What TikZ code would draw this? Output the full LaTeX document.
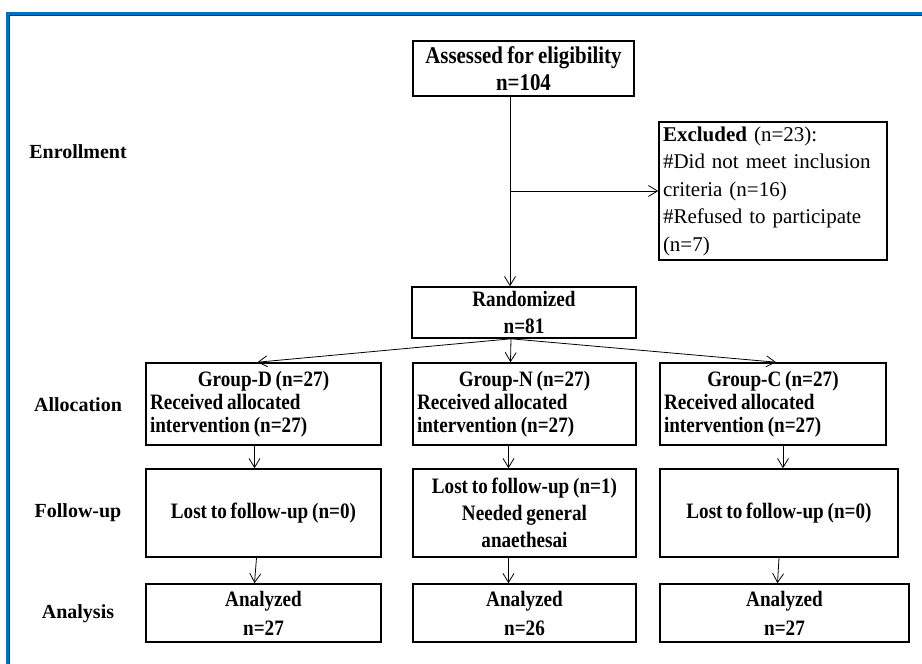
\documentclass[tikz,border=0pt]{standalone}
\usepackage{fontspec}
\setmainfont{Liberation Serif}
\newfontfamily\narrowserif[FakeStretch=0.87,WordSpace=0.8]{Liberation Serif}
\usetikzlibrary{arrows.meta}
\definecolor{frameblue}{RGB}{0,112,192}
\begin{document}
\begin{tikzpicture}[x=1pt,y=-1pt,
    box/.style={draw, line width=1.6pt, inner sep=0pt, align=center, font=\narrowserif\bfseries\fontsize{22}{27}\selectfont},
    grp/.style={box, align=left, font=\narrowserif\bfseries\fontsize{22}{23}\selectfont},
    stage/.style={font=\bfseries\fontsize{20}{24}\selectfont},
    arr/.style={-{Straight Barb[length=9pt,width=11pt]}, line width=0.8pt}]
    \useasboundingbox (0,0) rectangle (922,664);
    \draw[frameblue, line width=3pt] (7,664) -- (7,13) -- (922,13);
    \draw[black!80, line width=1pt] (9.5,664) -- (9.5,15.5) -- (922,15.5);
    \node[stage] (enrol) at (78,152) {Enrollment};
    \node[stage] (alloc) at (78,405) {Allocation};
    \node[stage] (follow) at (78,513) {Follow-up};
    \node[stage] (analysis) at (78,614) {Analysis};
    \node[box, minimum width=221pt, minimum height=55pt, font=\narrowserif\bfseries\fontsize{24}{27}\selectfont] (assess) at (523.5,68.5) {Assessed for eligibility\\n=104};
    \node[box, minimum width=228pt, minimum height=138pt, text width=220pt, align=left, font=\fontsize{21}{27.5}\selectfont] (excl) at (773,191) {\textbf{Excluded} (n=23):\\\#Did not meet inclusion\\criteria (n=16)\\\#Refused to participate\\(n=7)};
    \node[box, minimum width=224pt, minimum height=51pt] (rand) at (524,312.5) {Randomized\\n=81};
    \node[grp, minimum width=235pt, minimum height=82pt] (grpd) at (263.5,404) {\makebox[227pt][c]{Group-D (n=27)}\\Received allocated\\intervention (n=27)};
    \node[grp, minimum width=223pt, minimum height=82pt] (grpn) at (524.5,404) {\makebox[215pt][c]{Group-N (n=27)}\\Received allocated\\intervention (n=27)};
    \node[grp, minimum width=226pt, minimum height=82pt] (grpc) at (773,404) {\makebox[218pt][c]{Group-C (n=27)}\\Received allocated\\intervention (n=27)};
    \node[box, minimum width=235pt, minimum height=88pt] (folld) at (263.5,513) {Lost to follow-up (n=0)};
    \node[box, minimum width=223pt, minimum height=88pt] (folln) at (524.5,513) {Lost to follow-up (n=1)\\Needed general\\anaethesai};
    \node[box, minimum width=238pt, minimum height=88pt] (follc) at (779,513) {Lost to follow-up (n=0)};
    \node[box, minimum width=235pt, minimum height=58pt] (anad) at (263.5,613) {Analyzed\\[2pt]n=27};
    \node[box, minimum width=223pt, minimum height=58pt] (anan) at (524.5,613) {Analyzed\\[2pt]n=26};
    \node[box, minimum width=249pt, minimum height=58pt] (anac) at (784.5,613) {Analyzed\\[2pt]n=27};
    \coordinate (branch) at (510,191);
    \draw[arr] ([xshift=-13.5pt]assess.south) -- ([xshift=-14pt]rand.north);
    \draw[arr] (branch) -- (excl.west);
    \draw[arr] ([xshift=-13pt]rand.south) -- ([xshift=-6pt]grpd.north);
    \draw[arr] ([xshift=-13pt]rand.south) -- ([xshift=-14pt]grpn.north);
    \draw[arr] ([xshift=-13pt]rand.south) -- ([xshift=3pt]grpc.north);
    \draw[arr] ([xshift=-9pt]grpd.south) -- ([xshift=-9pt]folld.north);
    \draw[arr] ([xshift=-16pt]grpn.south) -- ([xshift=-16pt]folln.north);
    \draw[arr] ([xshift=10pt]grpc.south) -- ([xshift=4pt]follc.north);
    \draw[arr] ([xshift=-7pt]folld.south) -- ([xshift=-9pt]anad.north);
    \draw[arr] ([xshift=-16pt]folln.south) -- ([xshift=-16pt]anan.north);
    \draw[arr] ([xshift=0pt]follc.south) -- ([xshift=-7pt]anac.north);
\end{tikzpicture}
\end{document}
